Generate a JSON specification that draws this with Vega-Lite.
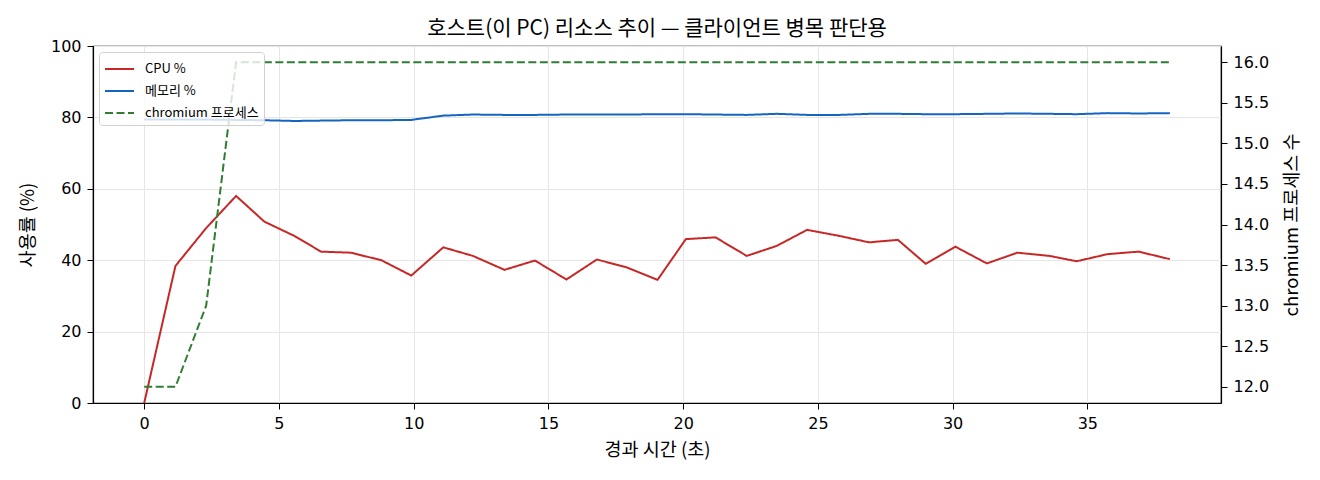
{
  "$schema": "https://vega.github.io/schema/vega-lite/v6.json",
  "description": "Host resource trend: CPU %, memory %, chromium process count",
  "width": 1128,
  "height": 357,
  "autosize": {"type": "none"},
  "padding": {"left": 93, "top": 46, "right": 99, "bottom": 77},
  "title": {
    "text": "호스트(이 PC) 리소스 추이 — 클라이언트 병목 판단용",
    "fontSize": 21,
    "fontWeight": "normal",
    "color": "#000",
    "frame": "group",
    "offset": -1
  },
  "data": {
    "values": [
      {"t": 0, "cpu": 0, "mem": 79.4, "proc": 12},
      {"t": 1.16, "cpu": 38.4, "mem": 79.4, "proc": 12},
      {"t": 2.3, "cpu": 49.0, "mem": 79.4, "proc": 13},
      {"t": 3.41, "cpu": 58.0, "mem": 79.3, "proc": 16},
      {"t": 4.46, "cpu": 50.8, "mem": 79.2, "proc": 16},
      {"t": 5.6, "cpu": 46.7, "mem": 79.0, "proc": 16},
      {"t": 6.56, "cpu": 42.4, "mem": 79.1, "proc": 16},
      {"t": 7.67, "cpu": 42.1, "mem": 79.2, "proc": 16},
      {"t": 8.8, "cpu": 40.0, "mem": 79.2, "proc": 16},
      {"t": 9.91, "cpu": 35.7, "mem": 79.3, "proc": 16},
      {"t": 11.1, "cpu": 43.6, "mem": 80.5, "proc": 16},
      {"t": 12.2, "cpu": 41.2, "mem": 80.8, "proc": 16},
      {"t": 13.37, "cpu": 37.3, "mem": 80.7, "proc": 16},
      {"t": 14.5, "cpu": 39.9, "mem": 80.7, "proc": 16},
      {"t": 15.67, "cpu": 34.6, "mem": 80.8, "proc": 16},
      {"t": 16.8, "cpu": 40.2, "mem": 80.8, "proc": 16},
      {"t": 17.9, "cpu": 38.0, "mem": 80.8, "proc": 16},
      {"t": 19.05, "cpu": 34.5, "mem": 80.9, "proc": 16},
      {"t": 20.1, "cpu": 45.9, "mem": 80.9, "proc": 16},
      {"t": 21.2, "cpu": 46.4, "mem": 80.8, "proc": 16},
      {"t": 22.36, "cpu": 41.2, "mem": 80.7, "proc": 16},
      {"t": 23.47, "cpu": 44.0, "mem": 81.0, "proc": 16},
      {"t": 24.6, "cpu": 48.5, "mem": 80.7, "proc": 16},
      {"t": 25.8, "cpu": 46.8, "mem": 80.7, "proc": 16},
      {"t": 26.9, "cpu": 45.0, "mem": 81.0, "proc": 16},
      {"t": 27.97, "cpu": 45.7, "mem": 81.0, "proc": 16},
      {"t": 29.0, "cpu": 39.0, "mem": 80.9, "proc": 16},
      {"t": 30.1, "cpu": 43.8, "mem": 80.9, "proc": 16},
      {"t": 31.27, "cpu": 39.1, "mem": 81.0, "proc": 16},
      {"t": 32.4, "cpu": 42.1, "mem": 81.1, "proc": 16},
      {"t": 33.6, "cpu": 41.2, "mem": 81.0, "proc": 16},
      {"t": 34.6, "cpu": 39.7, "mem": 80.9, "proc": 16},
      {"t": 35.75, "cpu": 41.7, "mem": 81.2, "proc": 16},
      {"t": 36.9, "cpu": 42.4, "mem": 81.1, "proc": 16},
      {"t": 38.06, "cpu": 40.3, "mem": 81.2, "proc": 16}
    ]
  },
  "encoding": {
    "x": {
      "field": "t",
      "type": "quantitative",
      "scale": {"domain": [-1.9, 39.96], "nice": false, "zero": false},
      "axis": {
        "title": "경과 시간 (초)",
        "values": [0, 5, 10, 15, 20, 25, 30, 35],
        "grid": true,
        "titlePadding": 9
      }
    },
    "color": {
      "field": "series",
      "type": "nominal",
      "scale": {
        "domain": ["cpu", "mem", "proc"],
        "range": ["#c62828", "#1565c0", "#2e7d32"]
      },
      "legend": {
        "title": null,
        "orient": "top-left",
        "offset": 6,
        "labelExpr": "datum.label == 'cpu' ? 'CPU %' : datum.label == 'mem' ? '메모리 %' : 'chromium 프로세스'"
      }
    },
    "strokeDash": {
      "field": "series",
      "type": "nominal",
      "scale": {
        "domain": ["cpu", "mem", "proc"],
        "range": [[1, 0], [1, 0], [8, 3.5]]
      },
      "legend": {
        "title": null,
        "orient": "top-left",
        "offset": 6,
        "labelExpr": "datum.label == 'cpu' ? 'CPU %' : datum.label == 'mem' ? '메모리 %' : 'chromium 프로세스'"
      }
    }
  },
  "layer": [
    {
      "transform": [{"fold": ["cpu", "mem"], "as": ["series", "value"]}],
      "mark": {"type": "line", "strokeWidth": 2},
      "encoding": {
        "y": {
          "field": "value",
          "type": "quantitative",
          "scale": {"domain": [0, 100], "nice": false},
          "axis": {
            "title": "사용률 (%)",
            "values": [0, 20, 40, 60, 80, 100],
            "grid": true,
            "titlePadding": 13
          }
        }
      }
    },
    {
      "transform": [{"fold": ["proc"], "as": ["series", "value"]}],
      "mark": {"type": "line", "strokeWidth": 2},
      "encoding": {
        "y": {
          "field": "value",
          "type": "quantitative",
          "scale": {"domain": [11.8, 16.2], "nice": false, "zero": false},
          "axis": {
            "orient": "right",
            "title": "chromium 프로세스 수",
            "titleAngle": -90,
            "titleBaseline": "top",
            "titlePadding": 14,
            "values": [12, 12.5, 13, 13.5, 14, 14.5, 15, 15.5, 16],
            "format": ".1f",
            "grid": false
          }
        }
      }
    }
  ],
  "resolve": {"scale": {"y": "independent"}},
  "config": {
    "font": "Noto Sans CJK KR",
    "view": {"stroke": "#000", "strokeWidth": 1.2},
    "axis": {
      "domainColor": "#000",
      "domainWidth": 1.2,
      "tickColor": "#000",
      "tickSize": 6,
      "tickWidth": 1,
      "labelColor": "#000",
      "labelFont": "DejaVu Sans",
      "labelFontSize": 16,
      "labelPadding": 6,
      "titleColor": "#000",
      "titleFontSize": 18.5,
      "titleFontWeight": "normal",
      "gridColor": "#e6e6e6",
      "gridWidth": 1
    },
    "legend": {
      "symbolType": "M-1,0H1.64",
      "symbolSize": 484,
      "symbolStrokeWidth": 2,
      "labelFontSize": 13,
      "labelOffset": 17,
      "labelColor": "#000",
      "rowPadding": 3,
      "padding": 5,
      "fillColor": "rgba(255,255,255,0.8)",
      "strokeColor": "#d0d0d0",
      "cornerRadius": 3
    }
  }
}
